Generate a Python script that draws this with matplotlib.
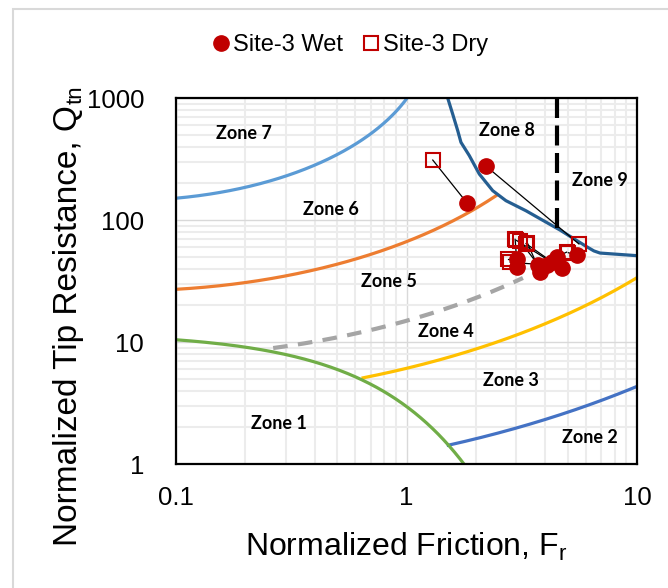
import numpy as np
import matplotlib
matplotlib.use("Agg")
from matplotlib import pyplot as plt
from matplotlib.patches import Rectangle

# CPT results, normalized friction (%) and normalized tip resistance
dry_fr = [1.30, 5.60, 2.96, 3.10, 3.34, 2.77, 2.82, 5.04, 3.00, 4.95, 3.30]
dry_q = [310, 63.6, 69.5, 67.6, 65.2, 47.6, 45.0, 53.9, 68.0, 54.5, 64.0]
wet_fr = [1.83, 2.21, 3.02, 3.73, 3.80, 3.01, 4.05, 5.48, 4.71, 4.48, 4.27]
wet_q = [138, 277, 41.4, 42.8, 37.7, 47.6, 42.8, 51.7, 40.2, 50.0, 45.5]

# Ic boundaries between zones 7/6, 6/5, 5/4, 4/3, 3/2 and the Fr range drawn
ic_levels = [1.31, 2.05, 2.60, 2.95, 3.60]
ic_fr_start = [0.1, 0.1, 0.264, 0.648, 1.518]
ic_fr_end = [1.2, 2.46, 3.2, 10, 10]
ic_colors = ['#5B9BD5', '#ED7D31', '#A5A5A5', '#FFC000', '#4472C4']
ic_styles = ['-', '-', '--', '-', '-']

# zone 1 boundary Q = 12 exp(-1.4 Fr)
z1_a, z1_b = 12.0, 1.4
z1_fr_end = 1.775

# zone 8/9 boundary
z8_fr = [1.48, 1.509, 1.586, 1.668, 1.723, 1.873, 2.07, 2.366, 2.70, 3.30, 4.63, 6.05, 6.5, 6.91, 10.0]
z8_q = [1100, 1000, 739, 540, 433, 337, 238, 174, 144, 119, 82.8, 60.4, 55.8, 53.6, 51.0]
z9_fr = 4.48

zone_names = ['Zone 1', 'Zone 2', 'Zone 3', 'Zone 4', 'Zone 5', 'Zone 6', 'Zone 7', 'Zone 8', 'Zone 9']
zone_fr = [0.28, 6.25, 2.84, 1.48, 0.84, 0.47, 0.197, 2.73, 6.91]
zone_q = [2.13, 1.66, 4.88, 12.3, 31.6, 121, 507, 537, 209]


def ic_curve(ic, f0, f1):
    fr = np.logspace(np.log10(f0), np.log10(f1), 200)
    a = ic ** 2 - (np.log10(fr) + 1.22) ** 2
    fr = fr[a >= 0]
    q = 10 ** (3.47 - np.sqrt(a[a >= 0]))
    return fr, q


plt.rcParams['font.family'] = ['Liberation Sans', 'DejaVu Sans']

fig = plt.figure(figsize=(6.68, 5.88), dpi=100)
ax = fig.add_axes([176 / 668, 124 / 588, 461 / 668, 366 / 588])
ax.set_xscale('log')
ax.set_yscale('log')
ax.set_xlim(0.1, 10)
ax.set_ylim(1, 1000)

ax.grid(True, which='major', color='#d9d9d9', lw=1.0, zorder=0)
ax.grid(True, which='minor', color='#ececec', lw=1.5, zorder=0)
ax.set_axisbelow(True)

# zone boundaries
for ic, f0, f1, c, ls in zip(ic_levels, ic_fr_start, ic_fr_end, ic_colors, ic_styles):
    fr, q = ic_curve(ic, f0, f1)
    if ls == '--':
        ax.plot(fr, q, color=c, lw=3, ls=(0, (3.5, 2.5)), zorder=2)
    else:
        ax.plot(fr, q, color=c, lw=2.3, zorder=2)

fr1 = np.linspace(0.1, z1_fr_end, 200)
ax.plot(fr1, z1_a * np.exp(-z1_b * fr1), color='#70AD47', lw=2.3, zorder=2)
ax.plot(z8_fr, z8_q, color='#255E91', lw=2.3, zorder=2)
ax.plot([z9_fr, z9_fr], [1000, 83], color='black', lw=3, ls=(0, (4.8, 1.8)), zorder=2)

for name, x, y in zip(zone_names, zone_fr, zone_q):
    ax.text(x, y, name, family='Lato', fontweight='bold', fontsize=13,
            ha='center', va='center', zorder=3)

# wet/dry pairs
for i in range(len(dry_fr)):
    ax.plot([dry_fr[i], wet_fr[i]], [dry_q[i], wet_q[i]], color='black', lw=0.9, zorder=4)
ax.plot(dry_fr, dry_q, ls='none', marker='s', ms=9.5, mfc='none', mec='#C00000',
        mew=1.5, label='Site-3 Dry', zorder=5)
ax.plot(wet_fr, wet_q, ls='none', marker='o', ms=11, color='#C00000',
        label='Site-3 Wet', zorder=6)

ax.set_xticks([0.1, 1, 10])
ax.set_xticklabels(['0.1', '1', '10'])
ax.set_yticks([1, 10, 100, 1000])
ax.set_yticklabels(['1', '10', '100', '1000'])
ax.minorticks_on()
ax.tick_params(which='both', length=0, labelsize=18.5)
ax.tick_params(axis='x', pad=16)
ax.tick_params(axis='y', pad=23)
for s in ax.spines.values():
    s.set_linewidth(1.6)
    s.set_color('black')

fig.text(406 / 668, 1 - 556 / 588, 'Normalized Friction, F$_\\mathregular{r}$', fontsize=23,
         ha='center', va='baseline')

# y title with a hand-placed subscript
ylab = fig.text(77 / 668, 1 - 546 / 588, 'Normalized Tip Resistance, Q', fontsize=24,
                rotation=90, rotation_mode='anchor', ha='left', va='baseline')
fig.canvas.draw()
bb = ylab.get_window_extent()
fig.text(81.5 / 668, (bb.y1 + 1) / 588, 'tn', fontsize=16,
         rotation=90, rotation_mode='anchor', ha='left', va='baseline')

h, l = ax.get_legend_handles_labels()
fig.legend(h[::-1], l[::-1], loc='center', bbox_to_anchor=(349 / 668, 1 - 45 / 588), ncol=2,
           frameon=False, fontsize=17, handletextpad=0.05, columnspacing=0.75,
           handlelength=0.9)

fig.patches.append(Rectangle((13 / 668, -0.05), 1.1, 1 - 9 / 588 + 0.05, transform=fig.transFigure,
                             fill=False, edgecolor='#d9d9d9', lw=1.5))

fig.savefig('out.png', dpi=100)
